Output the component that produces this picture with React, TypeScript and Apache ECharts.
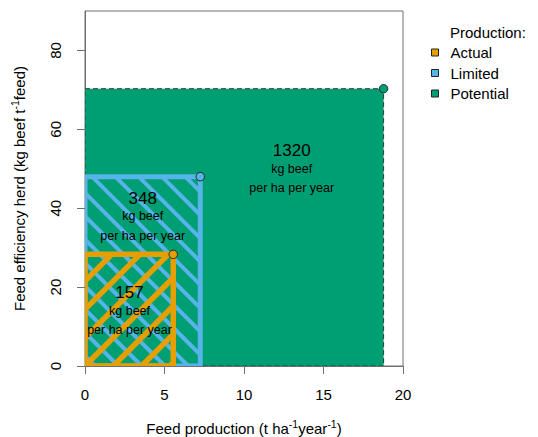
import React, { useEffect, useRef } from 'react';
import * as echarts from 'echarts';

// Production levels (drawn back to front: Potential, Limited, Actual)
const categories = ['Actual', 'Limited', 'Potential'];
const feedProduction = [5.55, 7.25, 18.78]; // t ha-1 year-1
const feedEfficiency = [28.3, 48.0, 70.3]; // kg beef t-1 feed
const beefYield = ['157', '348', '1320']; // kg beef per ha per year
const labelX = [2.8, 3.63, 13.0];
const labelY = [13.65, 37.6, 49.75];
const xTicks = [0, 5, 10, 15, 20];
const yTicks = [0, 20, 40, 60, 80];

const COLORS: Record<string, string> = {
  Actual: '#E69F00',
  Limited: '#56B4E9',
  Potential: '#009E73',
};
const FONT = '"Liberation Sans", Arial, sans-serif';

function hatchLines(
  left: number, top: number, right: number, bottom: number,
  dir: 1 | -1, spacing: number, phase: number, color: string, width: number
) {
  const out: any[] = [];
  if (dir === 1) {
    // '/' lines: x + y = c
    const cMin = left + top, cMax = right + bottom;
    const base = left + bottom + phase;
    const kMin = Math.floor((cMin - base) / spacing) - 1;
    const kMax = Math.ceil((cMax - base) / spacing) + 1;
    for (let k = kMin; k <= kMax; k++) {
      const c = base + k * spacing;
      const xa = Math.max(left, c - bottom);
      const xb = Math.min(right, c - top);
      if (xb > xa) {
        out.push({ type: 'line', shape: { x1: xa, y1: c - xa, x2: xb, y2: c - xb }, style: { stroke: color, lineWidth: width } });
      }
    }
  } else {
    // '\' lines: x - y = c
    const cMin = left - bottom, cMax = right - top;
    const base = left - bottom + phase;
    const kMin = Math.floor((cMin - base) / spacing) - 1;
    const kMax = Math.ceil((cMax - base) / spacing) + 1;
    for (let k = kMin; k <= kMax; k++) {
      const c = base + k * spacing;
      const xa = Math.max(left, c + top);
      const xb = Math.min(right, c + bottom);
      if (xb > xa) {
        out.push({ type: 'line', shape: { x1: xa, y1: xa - c, x2: xb, y2: xb - c }, style: { stroke: color, lineWidth: width } });
      }
    }
  }
  return out;
}

function makeRenderItem(name: string, yieldText: string) {
  return (params: any, api: any) => {
    const x = api.value(0);
    const y = api.value(1);
    const lx = api.value(2);
    const ly = api.value(3);
    const p0 = api.coord([0, 0]);
    const p1 = api.coord([x, y]);
    const left = p0[0], bottom = p0[1], right = p1[0], top = p1[1];
    const color = COLORS[name];
    const children: any[] = [];
    const shape = { x: left, y: top, width: right - left, height: bottom - top };
    if (name === 'Potential') {
      children.push({ type: 'rect', shape, style: { fill: color, stroke: '#2f3a35', lineWidth: 1, lineDash: [5, 3] } });
    } else if (name === 'Limited') {
      children.push({ type: 'rect', shape, style: { fill: COLORS.Potential } });
      children.push(...hatchLines(left, top, right, bottom, -1, 23.3, 10, color, 4));
      children.push({ type: 'rect', shape, style: { fill: 'none', stroke: color, lineWidth: 5 } });
    } else {
      children.push(...hatchLines(left, top, right, bottom, 1, 28.3, 0, color, 5.5));
      children.push({ type: 'rect', shape, style: { fill: 'none', stroke: color, lineWidth: 5.5 } });
    }
    const lp = api.coord([lx, ly]);
    children.push({
      type: 'text',
      x: lp[0],
      y: lp[1],
      style: {
        text: '{big|' + yieldText + '}\n{small|kg beef}\n{small|per ha per year}',
        align: 'center',
        verticalAlign: 'middle',
        fill: '#000',
        fontFamily: FONT,
        rich: {
          big: { fontSize: 17, lineHeight: 17, fontFamily: FONT, fill: '#000' },
          small: { fontSize: 12.5, lineHeight: 19.5, fontFamily: FONT, fill: '#000' },
        },
      },
    });
    children.push({
      type: 'circle',
      shape: { cx: right, cy: top, r: 4.2 },
      style: { fill: color, stroke: '#222', lineWidth: 1 },
    });
    return { type: 'group', children };
  };
}

export default function App() {
  const ref = useRef<HTMLDivElement>(null);
  useEffect(() => {
    document.body.style.margin = '0';
    const chart = echarts.init(ref.current!, undefined, { renderer: 'svg' });
    const order = ['Potential', 'Limited', 'Actual'];
    const series = order.map((name) => {
      const i = categories.indexOf(name);
      return {
        type: 'custom',
        name,
        clip: true,
        itemStyle: { color: COLORS[name] },
        renderItem: makeRenderItem(name, beefYield[i]),
        encode: { x: [0], y: [1] },
        data: [[feedProduction[i], feedEfficiency[i], labelX[i], labelY[i]]],
      };
    });
    const supRich = {
      sup: { fontSize: 10.5, lineHeight: 10, verticalAlign: 'top', fontFamily: FONT, color: '#000' },
      base: { fontSize: 15, lineHeight: 20, fontFamily: FONT, color: '#000' },
    };
    chart.setOption({
      animation: false,
      backgroundColor: '#fff',
      textStyle: { fontFamily: FONT },
      title: {
        text: 'Production:',
        left: 450,
        top: 25,
        textStyle: { fontSize: 15, fontWeight: 'normal', color: '#000', fontFamily: FONT },
        padding: 0,
      },
      legend: {
        data: categories,
        orient: 'vertical',
        left: 431,
        top: 45,
        padding: 0,
        itemWidth: 7,
        itemHeight: 7,
        itemGap: 5.5,
        icon: 'rect',
        selectedMode: false,
        itemStyle: { borderColor: '#222', borderWidth: 1 },
        textStyle: { fontSize: 15, color: '#000', fontFamily: FONT, padding: [0, 0, 0, 7] },
      },
      grid: {
        left: 85,
        top: 11,
        right: 135,
        bottom: 71,
        show: true,
        borderColor: '#707070',
        borderWidth: 1,
        containLabel: false,
        outerBoundsMode: 'none',
      },
      xAxis: {
        type: 'value',
        min: 0,
        max: 20,
        interval: 5,
        name: '{base|Feed production (t ha}{sup|-1}{base|year}{sup|-1}{base|)}',
        nameLocation: 'middle',
        nameGap: 52,
        nameTextStyle: { fontSize: 15, color: '#000', fontFamily: FONT, rich: supRich },
        axisLine: { show: true, lineStyle: { color: '#707070' } },
        axisTick: { show: true, inside: false, length: 8, lineStyle: { color: '#707070' }, customValues: xTicks },
        axisLabel: { fontSize: 15, color: '#000', margin: 21, fontFamily: FONT, customValues: xTicks },
        splitLine: { show: false },
      },
      yAxis: {
        type: 'value',
        min: 0,
        max: 90,
        interval: 20,
        name: '{base|Feed efficiency herd (kg beef t}{sup|-1}{base|feed)}',
        nameLocation: 'middle',
        nameGap: 56,
        nameRotate: 90,
        nameTextStyle: { fontSize: 15, color: '#000', fontFamily: FONT, rich: supRich },
        axisLine: { show: true, lineStyle: { color: '#707070' } },
        axisTick: { show: true, inside: false, length: 8, lineStyle: { color: '#707070' }, customValues: yTicks },
        axisLabel: { fontSize: 15, color: '#000', margin: 22, rotate: 90, fontFamily: FONT, customValues: yTicks },
        splitLine: { show: false },
      },
      series,
    });
    return () => chart.dispose();
  }, []);
  return <div ref={ref} style={{ width: 538, height: 437 }} />;
}
